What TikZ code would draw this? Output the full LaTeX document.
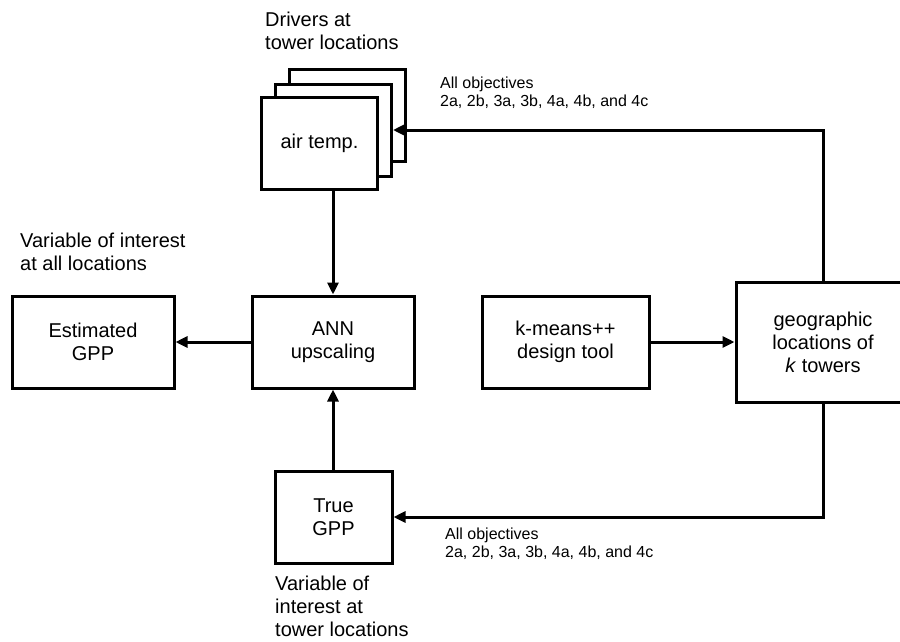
\documentclass[tikz,border=0pt]{standalone}
\usepackage{fontspec}
\setmainfont{Liberation Sans}
\usetikzlibrary{arrows.meta}
\tikzset{
  box/.style={draw=black, fill=white, line width=3pt, align=center, inner sep=2pt,
    font=\fontsize{20}{23}\selectfont},
  arr/.style={line width=3pt, -{Triangle[length=12pt,width=11pt]}},
  biglabel/.style={align=left, inner sep=0pt, anchor=north west, font=\fontsize{20}{23}\selectfont},
  smalllabel/.style={align=left, inner sep=0pt, anchor=north west, font=\fontsize{16}{17.5}\selectfont}
}
\begin{document}
\begin{tikzpicture}[x=1pt,y=-1pt]
\clip (0,0) rectangle (900,641);
\fill[white] (0,0) rectangle (900,641);
% stacked driver boxes
\node[box, minimum width=116, minimum height=92] (back) at (347,115) {};
\node[box, minimum width=116, minimum height=92] (mid) at (333.5,130) {};
\node[box, minimum width=116, minimum height=92] (front) at (319.5,143.5) {air temp.};
% main boxes
\node[box, minimum width=162, minimum height=92] (ann) at (333,342) {ANN\\upscaling};
\node[box, minimum width=162, minimum height=92] (est) at (93,342) {Estimated\\GPP};
\node[box, minimum width=167, minimum height=92] (km) at (565.5,342) {k-means++\\design tool};
\node[box, minimum width=174, minimum height=120] (geo) at (823,342) {geographic\\locations of\\\textit{k} towers};
\node[box, minimum width=117, minimum height=92] (true) at (333.5,517) {True\\GPP};
% labels
\node[biglabel] (lbldrv) at (265,12) {Drivers at\\tower locations};
\node[biglabel] (lblall) at (20,233) {Variable of interest\\at all locations};
\node[biglabel] (lbltow) at (275,576) {Variable of\\interest at\\tower locations};
\node[smalllabel] (lblobj1) at (440,77) {All objectives\\2a, 2b, 3a, 3b, 4a, 4b, and 4c};
\node[smalllabel] (lblobj2) at (445,528) {All objectives\\2a, 2b, 3a, 3b, 4a, 4b, and 4c};
% connectors
\draw[arr] (front.south -| ann.north) -- (ann.north);
\draw[arr] (ann.west) -- (est.east);
\draw[arr] (true.north -| ann.south) -- (ann.south);
\draw[arr] (km.east) -- (geo.west);
\draw[arr] (geo.north) |- (mid.east);
\draw[arr] (geo.south) |- (true.east);
\end{tikzpicture}
\end{document}
